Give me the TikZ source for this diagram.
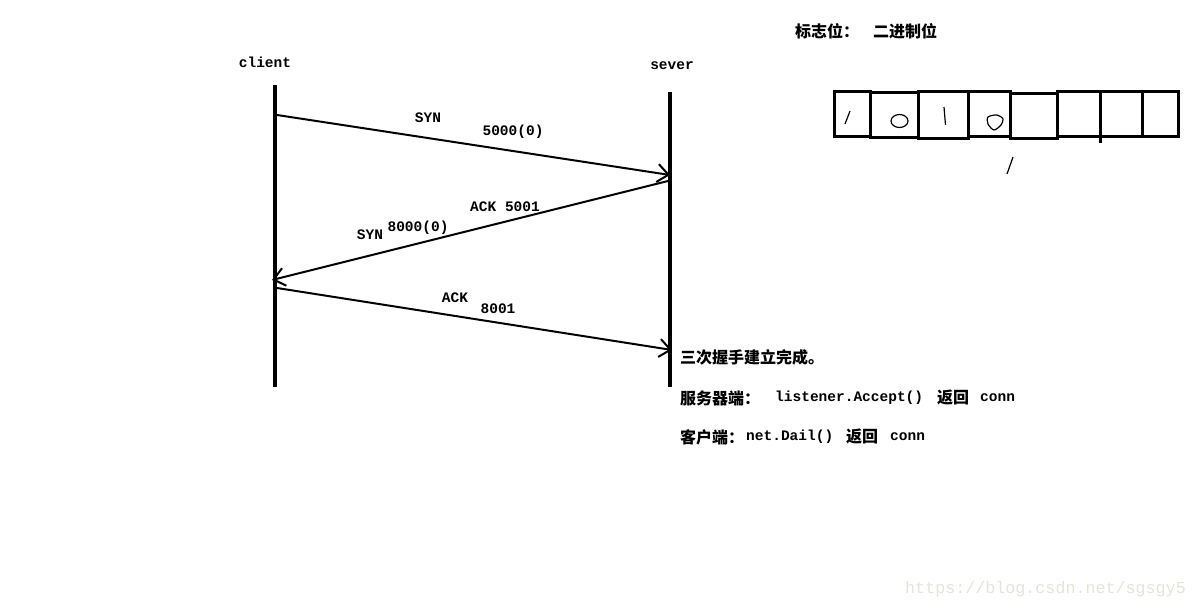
\documentclass[tikz,border=0pt]{standalone}
\usepackage{fontspec}
\setmainfont{Liberation Mono}
\newfontfamily\cjk{Noto Sans CJK SC}
\usetikzlibrary{arrows.meta}

\begin{document}
\begin{tikzpicture}[x=1pt, y=-1pt, >={Straight Barb[length=11pt,width=18pt]},
    lbl/.style={font=\fontsize{14.5}{16}\selectfont\bfseries, inner sep=0pt},
    zh/.style={font=\fontsize{16}{18}\selectfont\bfseries\cjk, inner sep=0pt, anchor=west},
    en/.style={lbl, anchor=west},
    life/.style={line width=4pt},
    msg/.style={line width=2pt, ->},
    bitbox/.style={line width=3pt},
    pen/.style={line width=1.2pt}]
    \useasboundingbox (0,0) rectangle (1198,609);

    % Lifelines
    \coordinate (ctop) at (275,85);
    \coordinate (cbot) at (275,387);
    \coordinate (stop) at (670,92);
    \coordinate (sbot) at (670,387);
    \draw[life] (ctop) -- (cbot);
    \draw[life] (stop) -- (sbot);
    \node[lbl] (client) at (265,62) {client};
    \node[lbl] (sever) at (672,66) {sever};

    % Messages
    \coordinate (c1) at (277,115);
    \coordinate (s1) at (670,175);
    \coordinate (s2) at (668,181);
    \coordinate (c2) at (272,280);
    \coordinate (c3) at (277,288);
    \coordinate (s3) at (672,350);
    \draw[msg] (c1) -- (s1);
    \draw[msg] (s2) -- (c2);
    \draw[msg] (c3) -- (s3);

    \node[lbl] (syn1) at (428,118) {SYN};
    \node[lbl] (seq1) at (513,132) {5000(0)};
    \node[lbl] (ack1) at (505,207) {ACK 5001};
    \node[lbl] (syn2) at (370,235) {SYN};
    \node[lbl] (seq2) at (418,228) {8000(0)};
    \node[lbl] (ack2) at (455,298) {ACK};
    \node[lbl] (seq3) at (498,309) {8001};

    % Notes
    \node[zh] (done) at (680,357) {三次握手建立完成。};
    \node[zh] (srv) at (680,398) {服务器端：};
    \node[en] (accept) at (775,398) {listener.Accept()};
    \node[zh] (ret1) at (937,398) {返回};
    \node[en] (conn1) at (980,398) {conn};
    \node[zh] (cli) at (680,437) {客户端：};
    \node[en] (dial) at (746,437) {net.Dail()};
    \node[zh] (ret2) at (846,437) {返回};
    \node[en] (conn2) at (890,437) {conn};

    % Flag bits
    \node[zh] (flag) at (795,31) {标志位：};
    \node[zh] (binary) at (873,31) {二进制位};
    \draw[bitbox] (834,92) rectangle (870,137);
    \draw[bitbox] (870,93) rectangle (918,138);
    \draw[bitbox] (918,92) rectangle (968,139);
    \draw[bitbox] (968,92) rectangle (1010,137);
    \draw[bitbox] (1010,94) rectangle (1057,139);
    \draw[bitbox] (1057,92) rectangle (1100,137);
    \draw[bitbox] (1100,92) rectangle (1142,137);
    \draw[bitbox] (1142,92) rectangle (1178,137);
    \draw[bitbox] (1100,137) -- (1100,143);

    % Handwritten bits
    \draw[pen] (845,124) -- (850,111);
    \draw[pen] (899.5,121) ellipse (8.5 and 6.5);
    \draw[pen] (944,107) -- (945.5,125);
    \draw[pen] plot[smooth cycle] coordinates {(988,117) (997,115) (1003,119) (1001,125) (994,130) (988,124)};
    \draw[pen] (1007,174) -- (1013,157);

    % Watermark
    \node[font=\fontsize{16.7}{18}\selectfont, text={rgb,255:red,228;green,228;blue,220}, inner sep=0pt, anchor=west] (mark) at (905,589) {https://blog.csdn.net/sgsgy5};
\end{tikzpicture}
\end{document}
